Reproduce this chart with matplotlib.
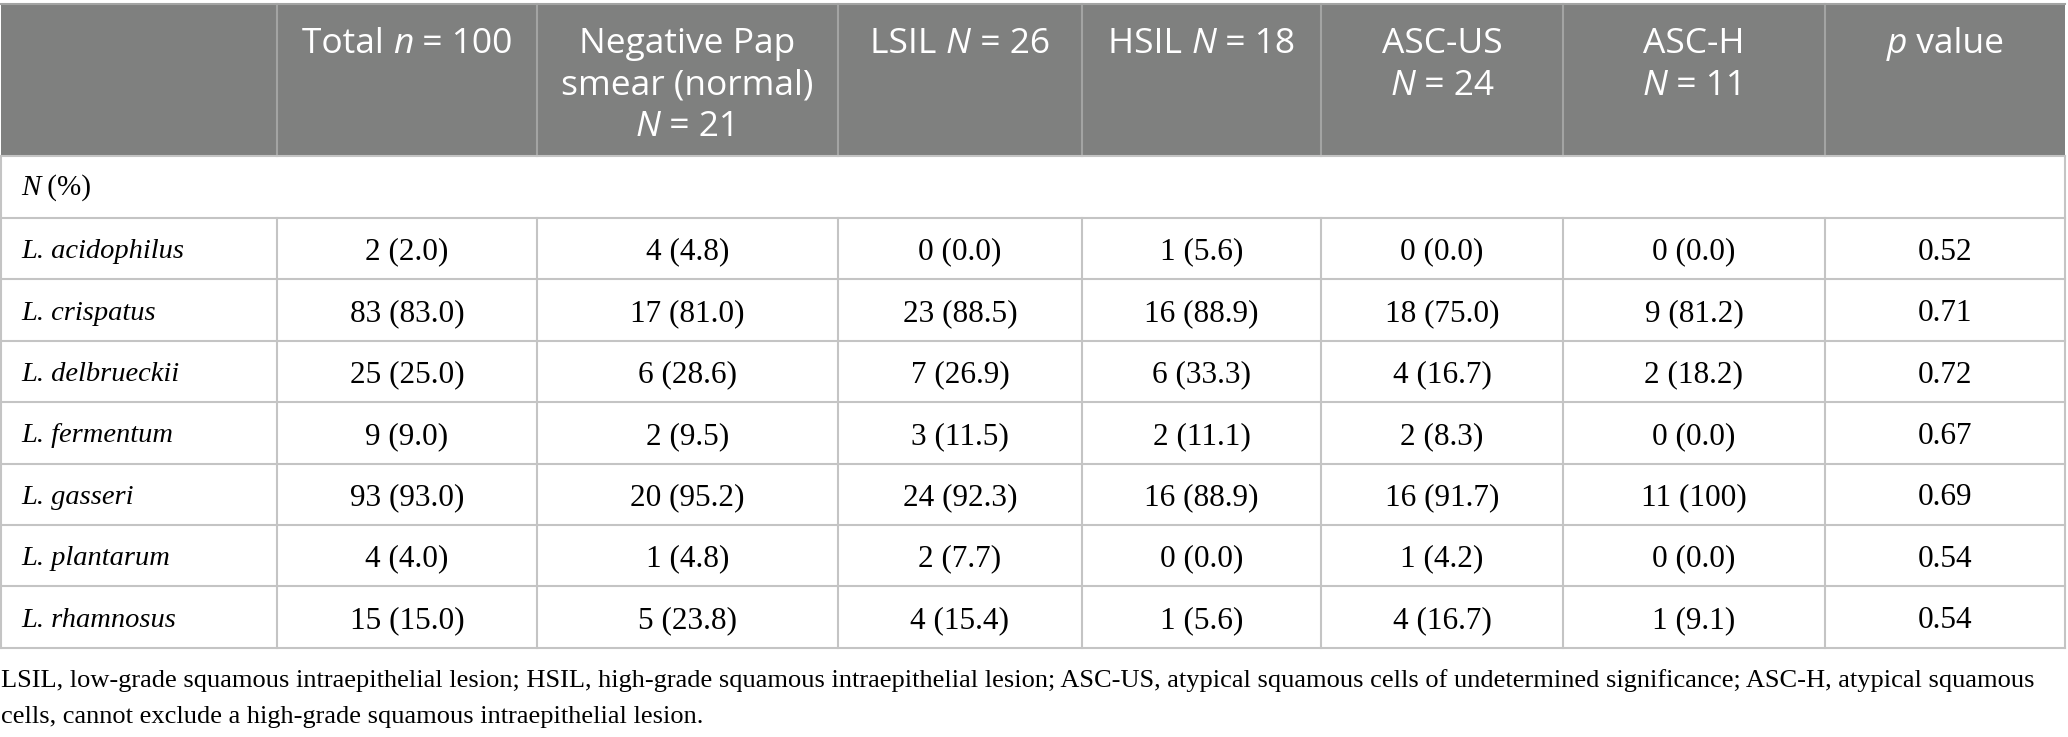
#!/usr/bin/env python3
import matplotlib
matplotlib.use("Agg")
from matplotlib import pyplot as plt
from matplotlib.patches import Rectangle

W, H = 2068, 737

# table content
header_runs = [
    [],
    [[("Total ", "normal"), ("n", "italic"), (" = 100", "normal")]],
    [[("Negative Pap", "normal")], [("smear (normal)", "normal")],
     [("N", "italic"), (" = 21", "normal")]],
    [[("LSIL ", "normal"), ("N", "italic"), (" = 26", "normal")]],
    [[("HSIL ", "normal"), ("N", "italic"), (" = 18", "normal")]],
    [[("ASC-US", "normal")], [("N", "italic"), (" = 24", "normal")]],
    [[("ASC-H", "normal")], [("N", "italic"), (" = 11", "normal")]],
    [[("p", "italic"), (" value", "normal")]],
]

species = ["L. acidophilus", "L. crispatus", "L. delbrueckii", "L. fermentum",
           "L. gasseri", "L. plantarum", "L. rhamnosus"]
total = ["2 (2.0)", "83 (83.0)", "25 (25.0)", "9 (9.0)", "93 (93.0)", "4 (4.0)", "15 (15.0)"]
negative = ["4 (4.8)", "17 (81.0)", "6 (28.6)", "2 (9.5)", "20 (95.2)", "1 (4.8)", "5 (23.8)"]
lsil = ["0 (0.0)", "23 (88.5)", "7 (26.9)", "3 (11.5)", "24 (92.3)", "2 (7.7)", "4 (15.4)"]
hsil = ["1 (5.6)", "16 (88.9)", "6 (33.3)", "2 (11.1)", "16 (88.9)", "0 (0.0)", "1 (5.6)"]
ascus = ["0 (0.0)", "18 (75.0)", "4 (16.7)", "2 (8.3)", "16 (91.7)", "1 (4.2)", "4 (16.7)"]
asch = ["0 (0.0)", "9 (81.2)", "2 (18.2)", "0 (0.0)", "11 (100)", "0 (0.0)", "1 (9.1)"]
p_values = ["0.52", "0.71", "0.72", "0.67", "0.69", "0.54", "0.54"]

footnote = [
    "LSIL, low-grade squamous intraepithelial lesion; HSIL, high-grade squamous "
    "intraepithelial lesion; ASC-US, atypical squamous cells of undetermined "
    "significance; ASC-H, atypical squamous",
    "cells, cannot exclude a high-grade squamous intraepithelial lesion.",
]

# layout (pixels)
col_edges = [1, 277, 537, 838, 1082, 1321, 1563, 1825, 2065]
top, head_bot, sub_bot = 4, 156, 218
row_h = 61.4
n_rows = len(species)
bottom = sub_bot + n_rows * row_h

HEAD_BG = "#7f807f"
HEAD_LINE = "#a3a4a3"
GRID = "#c4c4c4"
SANS = "Open Sans"
SERIF = "Liberation Serif"

fig = plt.figure(figsize=(W / 100, H / 100), dpi=100)
ax = fig.add_axes([0, 0, 1, 1])
ax.set_xlim(0, W)
ax.set_ylim(H, 0)
ax.axis("off")
renderer = fig.canvas.get_renderer()


def draw_runs(x, y, runs, family, size, color, ha="center"):
    # draw a line made of text pieces with different styles
    pieces = []
    for txt, style in runs:
        t = ax.text(0, y, txt, family=family, style=style, fontsize=size,
                    color=color, va="baseline", ha="left")
        pieces.append(t)
    inv = ax.transData.inverted()
    widths = []
    for t in pieces:
        bb = t.get_window_extent(renderer)
        x0, _ = inv.transform((bb.x0, 0))
        x1, _ = inv.transform((bb.x1, 0))
        widths.append(x1 - x0)
    total_w = sum(widths)
    cx = x - total_w / 2 if ha == "center" else x
    for t, w in zip(pieces, widths):
        t.set_x(cx)
        cx += w


# header background
ax.add_patch(Rectangle((col_edges[0], top), col_edges[-1] - col_edges[0],
                       head_bot - top, facecolor=HEAD_BG, edgecolor="none"))
for xe in col_edges[1:-1]:
    ax.plot([xe, xe], [top, head_bot], color=HEAD_LINE, lw=1.5)

for i, lines in enumerate(header_runs):
    cx = (col_edges[i] + col_edges[i + 1]) / 2
    for j, runs in enumerate(lines):
        draw_runs(cx, 53 + j * 41.5, runs, SANS, 25.5, "white")

# grid lines
ax.plot([col_edges[0], col_edges[-1]], [top, top], color=HEAD_LINE, lw=1.5)
ax.plot([col_edges[0], col_edges[-1]], [head_bot, head_bot], color=GRID, lw=1.5)
for k in range(n_rows + 1):
    yy = sub_bot + k * row_h
    ax.plot([col_edges[0], col_edges[-1]], [yy, yy], color=GRID, lw=1.5)
for xe in [col_edges[0], col_edges[-1]]:
    ax.plot([xe, xe], [head_bot, bottom], color=GRID, lw=1.5)
for xe in col_edges[1:-1]:
    ax.plot([xe, xe], [sub_bot, bottom], color=GRID, lw=1.5)

# N (%) subheader
draw_runs(21, (head_bot + sub_bot) / 2 + 8,
          [("N", "italic"), (" (%)", "normal")], SERIF, 21, "black", ha="left")

columns = [total, negative, lsil, hsil, ascus, asch, p_values]
for r in range(n_rows):
    cy = sub_bot + (r + 0.5) * row_h
    ax.text(21, cy, species[r], family=SERIF, style="italic", fontsize=20.5,
            va="center_baseline", ha="left", color="black")
    for c, values in enumerate(columns):
        cx = (col_edges[c + 1] + col_edges[c + 2]) / 2
        ax.text(cx, cy, values[r], family=SERIF, fontsize=22.5,
                va="center_baseline", ha="center", color="black")

for j, line in enumerate(footnote):
    ax.text(1, 678 + j * 37, line, family=SERIF, fontsize=19,
            va="center_baseline", ha="left", color="black")

fig.savefig("out.png", dpi=100, facecolor="white")
